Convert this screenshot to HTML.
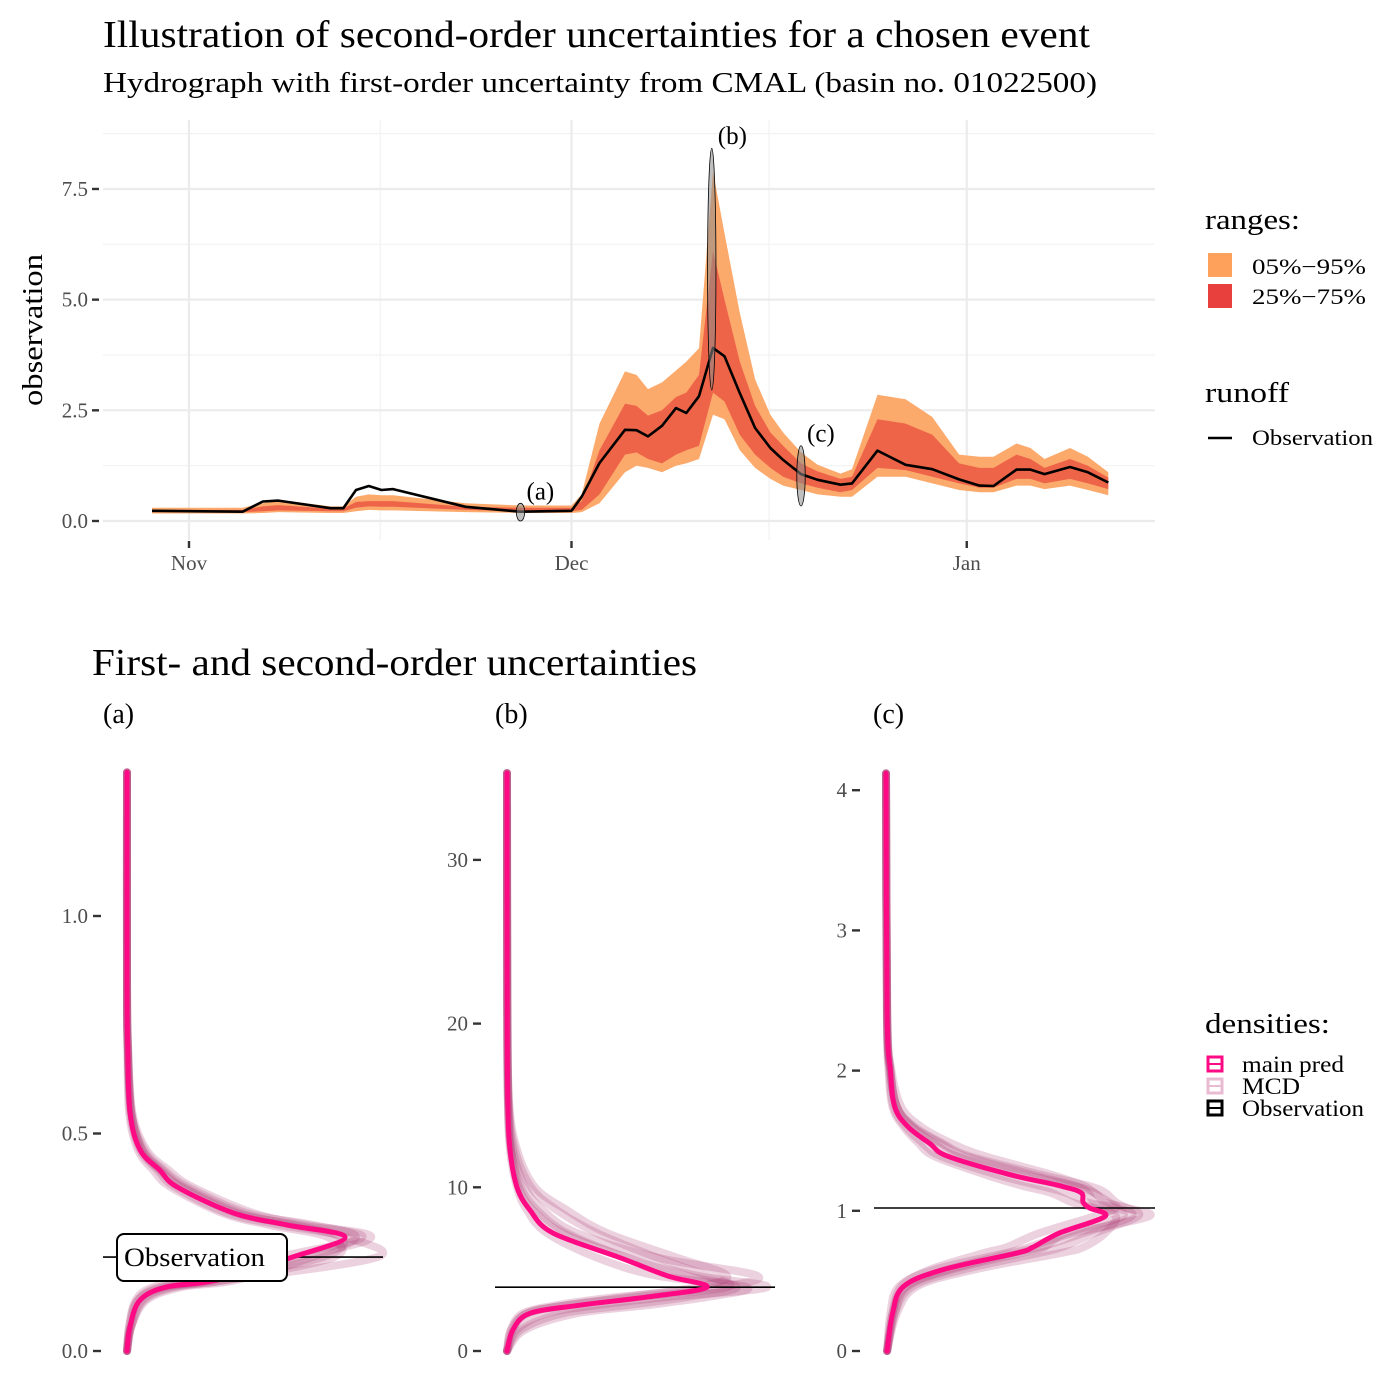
<!DOCTYPE html>
<html><head><meta charset="utf-8">
<style>
html,body{margin:0;padding:0;background:#fff;}
svg{display:block;font-family:"Liberation Serif",serif;}
</style></head>
<body>
<svg id="chart" width="1391" height="1378" viewBox="0 0 1391 1378" xmlns="http://www.w3.org/2000/svg">
<rect width="1391" height="1378" fill="#fff"/>
<text x="103" y="47" font-size="38" textLength="987" lengthAdjust="spacingAndGlyphs" fill="#000">Illustration of second-order uncertainties for a chosen event</text>
<text x="103" y="92" font-size="29" textLength="994" lengthAdjust="spacingAndGlyphs" fill="#000">Hydrograph with first-order uncertainty from CMAL (basin no. 01022500)</text>
<g id="topPanel"></g>
<text transform="translate(42,330) rotate(-90)" text-anchor="middle" font-size="28" textLength="152" lengthAdjust="spacingAndGlyphs">observation</text>

<g>
<text x="1205" y="229" font-size="28" textLength="95" lengthAdjust="spacingAndGlyphs">ranges:</text>
<rect x="1208" y="253" width="24" height="24" fill="#FDA15B"/>
<text x="1252" y="274" font-size="22" textLength="114" lengthAdjust="spacingAndGlyphs">05%−95%</text>
<rect x="1208" y="284" width="24" height="24" fill="#E8403C"/>
<text x="1252" y="304" font-size="22" textLength="114" lengthAdjust="spacingAndGlyphs">25%−75%</text>
<text x="1205" y="402" font-size="28" textLength="84" lengthAdjust="spacingAndGlyphs">runoff</text>
<line x1="1208" y1="438" x2="1232" y2="438" stroke="#000" stroke-width="2.5"/>
<text x="1252" y="445" font-size="22" textLength="121" lengthAdjust="spacingAndGlyphs">Observation</text>
</g>

<text x="92" y="675" font-size="38" textLength="605" lengthAdjust="spacingAndGlyphs">First- and second-order uncertainties</text>
<text x="103" y="723" font-size="28">(a)</text>
<text x="495" y="723" font-size="28">(b)</text>
<text x="873" y="723" font-size="28">(c)</text>
<g id="bottom"></g>

<g>
<text x="1205" y="1033" font-size="28" textLength="125" lengthAdjust="spacingAndGlyphs">densities:</text>
<rect x="1208" y="1057" width="14" height="14" fill="none" stroke="#FF0A84" stroke-width="3"/>
<line x1="1209" y1="1064" x2="1221" y2="1064" stroke="#FF0A84" stroke-width="2"/>
<text x="1242" y="1072" font-size="23" textLength="102" lengthAdjust="spacingAndGlyphs">main pred</text>
<rect x="1208" y="1079" width="14" height="14" fill="none" stroke="#E9BBD3" stroke-width="3"/>
<line x1="1209" y1="1086" x2="1221" y2="1086" stroke="#E9BBD3" stroke-width="2"/>
<text x="1242" y="1094" font-size="23" textLength="58" lengthAdjust="spacingAndGlyphs">MCD</text>
<rect x="1208" y="1101" width="14" height="14" fill="none" stroke="#000" stroke-width="3"/>
<line x1="1209" y1="1108" x2="1221" y2="1108" stroke="#000" stroke-width="2"/>
<text x="1242" y="1116" font-size="23" textLength="122" lengthAdjust="spacingAndGlyphs">Observation</text>
</g>
</svg>
<script>
// ---------- hydrograph data ----------
const days = [-2.9,4.2,5.8,7,11.1,12.1,13.1,14.1,15.1,16,21.7,26,30,30.8,32.2,34.2,35.1,36,37.1,38.2,39,40,41.1,42,43.2,44.4,45.6,46.6,48,49.3,51.1,52,54,56.2,58.3,60.4,62,63.1,64.9,66,67.1,69.1,70.5,72.1];
const obs  = [0.23,0.21,0.44,0.46,0.29,0.29,0.70,0.79,0.70,0.72,0.32,0.21,0.23,0.55,1.31,2.06,2.05,1.91,2.15,2.55,2.44,2.82,3.91,3.72,2.89,2.10,1.65,1.38,1.06,0.93,0.82,0.85,1.59,1.27,1.17,0.94,0.80,0.79,1.16,1.16,1.06,1.22,1.10,0.87];
const q95  = [0.30,0.30,0.40,0.48,0.33,0.33,0.55,0.60,0.58,0.58,0.40,0.35,0.35,0.60,2.20,3.38,3.30,2.98,3.13,3.40,3.60,3.90,7.90,6.50,4.70,3.20,2.40,2.00,1.55,1.27,1.07,1.17,2.85,2.75,2.35,1.50,1.45,1.45,1.75,1.65,1.40,1.65,1.45,1.10];
const q75  = [0.25,0.25,0.33,0.36,0.28,0.28,0.43,0.45,0.45,0.45,0.32,0.30,0.30,0.45,1.60,2.65,2.60,2.38,2.50,2.80,2.90,3.30,6.10,5.00,3.60,2.60,2.00,1.70,1.30,1.12,0.95,1.00,2.30,2.20,1.95,1.30,1.20,1.20,1.50,1.40,1.20,1.40,1.25,0.98];
const q25  = [0.20,0.20,0.22,0.24,0.22,0.22,0.30,0.33,0.32,0.32,0.25,0.22,0.22,0.25,0.60,1.50,1.55,1.40,1.30,1.50,1.60,1.70,2.90,2.70,1.95,1.50,1.20,1.00,0.85,0.75,0.65,0.70,1.20,1.15,1.00,0.85,0.75,0.75,0.95,0.95,0.85,0.95,0.85,0.72];
const q05  = [0.17,0.17,0.18,0.20,0.18,0.18,0.22,0.25,0.24,0.24,0.20,0.18,0.18,0.20,0.40,1.10,1.25,1.20,1.10,1.25,1.30,1.40,2.40,2.30,1.60,1.20,0.95,0.80,0.70,0.60,0.55,0.55,1.00,1.00,0.85,0.70,0.65,0.65,0.80,0.80,0.72,0.80,0.70,0.58];
const yTicks = [0,2.5,5,7.5];
const yTickLabels = ["0.0","2.5","5.0","7.5"];
const xTickDays = [0,30,61];
const xTickLabels = ["Nov","Dec","Jan"];
const markerDays = [26,41.0,48.0];
const markerVals = [0.20,5.69,1.02];
const markerHalf = [0.2,2.73,0.68];
const markerLabels = ["(a)","(b)","(c)"];

// ---------- density data ----------
const gridA = [0,0.057,0.117,0.147,0.163,0.216,0.262,0.290,0.317,0.377,0.416,0.462,0.547,0.70,0.85,1.33];
const mainA = [0,0.014,0.06,0.18,0.41,0.76,1.0,0.73,0.49,0.23,0.15,0.06,0.014,0.003,0,0];
const mcdA = [
 [0,0.02,0.09,0.25,0.5,0.85,1.05,0.85,0.55,0.28,0.17,0.08,0.02,0.004,0,0],
 [0,0.01,0.04,0.12,0.3,0.7,1.08,0.78,0.5,0.25,0.15,0.07,0.02,0.003,0,0],
 [0,0.02,0.07,0.2,0.45,0.95,0.92,0.65,0.44,0.2,0.12,0.05,0.01,0.002,0,0],
 [0,0.015,0.05,0.15,0.38,0.8,1.12,0.82,0.58,0.3,0.19,0.09,0.025,0.005,0,0],
 [0,0.01,0.05,0.17,0.4,0.9,0.98,0.7,0.46,0.22,0.14,0.06,0.015,0.003,0,0],
 [0,0.02,0.08,0.22,0.46,1.15,1.0,0.76,0.52,0.26,0.16,0.07,0.02,0.004,0,0]];
const obsA = 0.216;
const ticksA = [0,0.5,1.0]; const tickLabA = ["0.0","0.5","1.0"];

const gridB = [0,1.3,2.3,2.8,3.3,3.9,4.6,5.7,7.2,8.6,10.0,12.3,15.3,21.4,35.3];
const mainB = [0,0.03,0.115,0.365,0.70,1.0,0.80,0.565,0.23,0.115,0.05,0.015,0.004,0.001,0];
const mcdB = [
 [0,0.07,0.28,0.6,0.9,1.15,0.9,0.6,0.3,0.15,0.07,0.02,0.005,0.001,0],
 [0,0.02,0.08,0.25,0.55,1.05,1.25,0.75,0.35,0.18,0.09,0.03,0.008,0.002,0],
 [0,0.09,0.35,0.7,1.0,1.2,0.75,0.45,0.2,0.1,0.05,0.015,0.004,0.001,0],
 [0,0.03,0.1,0.3,0.6,0.95,1.1,0.85,0.5,0.3,0.14,0.05,0.01,0.002,0],
 [0,0.05,0.2,0.45,0.8,1.3,0.95,0.6,0.28,0.13,0.06,0.02,0.005,0.001,0],
 [0,0.02,0.1,0.3,0.65,1.1,1.0,0.75,0.45,0.25,0.12,0.04,0.008,0.001,0]];
const obsB = 3.9;
const ticksB = [0,10,20,30]; const tickLabB = ["0","10","20","30"];

const gridC = [0,0.27,0.46,0.58,0.70,0.74,0.84,0.96,1.02,1.06,1.13,1.18,1.26,1.39,1.48,1.60,1.74,2.0,2.41,4.12];
const mainC = [0.005,0.03,0.08,0.26,0.60,0.67,0.79,1.0,0.93,0.90,0.89,0.79,0.56,0.28,0.2,0.1,0.04,0.02,0.005,0];
const mcdC = [
 [0.005,0.04,0.12,0.35,0.7,0.8,0.95,1.15,1.1,1.0,0.95,0.85,0.62,0.32,0.22,0.12,0.05,0.02,0.005,0],
 [0.005,0.03,0.07,0.2,0.45,0.55,0.7,0.95,1.05,1.02,0.95,0.9,0.75,0.45,0.3,0.16,0.07,0.025,0.006,0],
 [0.005,0.05,0.14,0.4,0.8,0.9,1.0,1.05,0.95,0.85,0.75,0.62,0.45,0.22,0.15,0.08,0.03,0.012,0.004,0],
 [0.005,0.02,0.06,0.22,0.55,0.65,0.85,1.2,1.1,1.05,1.0,0.92,0.7,0.38,0.26,0.13,0.05,0.02,0.005,0],
 [0.005,0.04,0.1,0.3,0.62,0.72,0.82,1.08,1.0,0.95,0.92,0.86,0.66,0.36,0.25,0.12,0.05,0.02,0.005,0],
 [0.005,0.03,0.09,0.28,0.58,0.7,0.9,1.12,1.05,0.92,0.82,0.7,0.5,0.25,0.17,0.09,0.035,0.015,0.004,0]];
const obsC = 1.02;
const ticksC = [0,1,2,3,4]; const tickLabC = ["0","1","2","3","4"];

const NS = "http://www.w3.org/2000/svg";
function mk(tag, attrs, parent){const e=document.createElementNS(NS,tag);for(const k in attrs)e.setAttribute(k,attrs[k]);parent.appendChild(e);return e;}

// ---------- hydrograph ----------
const topG = document.getElementById('topPanel');
const xDay = d => 189 + d*12.75;
const yVal = v => 521 - v*44.27;
const PL=103, PR=1155, PT=120, PB=540;
[1.25,3.75,6.25,8.75].forEach(v=>{const l=mk('line',{x1:PL,x2:PR,y1:yVal(v),y2:yVal(v),stroke:'#f2f2f2','stroke-width':1.2},topG);

});
[15,45.5].forEach(d=>{const l=mk('line',{x1:xDay(d),x2:xDay(d),y1:PT,y2:PB,stroke:'#f2f2f2','stroke-width':1.2},topG);

});
yTicks.forEach((v,i)=>{const l=mk('line',{x1:PL,x2:PR,y1:yVal(v),y2:yVal(v),stroke:'#ebebeb','stroke-width':2.2},topG);


const t=mk('line',{x1:92,x2:99,y1:yVal(v),y2:yVal(v),stroke:'#333','stroke-width':2.4},topG);


const tx=mk('text',{x:88,y:yVal(v)+7,'text-anchor':'end','font-size':21,fill:'#4d4d4d'},topG);tx.textContent=yTickLabels[i];

});
xTickDays.forEach((d,i)=>{const l=mk('line',{x1:xDay(d),x2:xDay(d),y1:PT,y2:PB,stroke:'#ebebeb','stroke-width':2.2},topG);


const t=mk('line',{x1:xDay(d),x2:xDay(d),y1:541,y2:548,stroke:'#333','stroke-width':2.4},topG);


const tx=mk('text',{x:xDay(d),y:570,'text-anchor':'middle','font-size':21,fill:'#4d4d4d'},topG);tx.textContent=xTickLabels[i];

});
function band(lo,hi){let p='M';days.forEach((d,i)=>{p+=xDay(d).toFixed(1)+','+yVal(hi[i]).toFixed(1)+' L';});
for(let i=days.length-1;i>=0;i--){p+=xDay(days[i]).toFixed(1)+','+yVal(lo[i]).toFixed(1)+(i?' L':' Z');}return p;}
const b1=mk('path',{d:band(q05,q95),fill:'#FCA96C'},topG);


const b2=mk('path',{d:band(q25,q75),fill:'#EE6448'},topG);


const ol=mk('path',{d:'M'+days.map((d,i)=>xDay(d).toFixed(1)+','+yVal(obs[i]).toFixed(1)).join(' L'),fill:'none',stroke:'#000','stroke-width':2.6,'stroke-linejoin':'round'},topG);


markerDays.forEach((d,i)=>{const cy=yVal(markerVals[i]);const ry=markerHalf[i]*44.27;
const e=mk('ellipse',{cx:xDay(d),cy:cy,rx:4.2,ry:ry,fill:'#8c8c8c','fill-opacity':0.55,stroke:'#000','stroke-width':0.8},topG);


const t=mk('text',{x:xDay(d)+6,y:cy-ry-4,'font-size':25},topG);t.textContent=markerLabels[i];

});

// ---------- density panels ----------
const bottom=document.getElementById('bottom');
function smooth(pts){let d='M'+pts[0][0].toFixed(1)+','+pts[0][1].toFixed(1);
for(let i=0;i<pts.length-1;i++){const p0=pts[i-1]||pts[i],p1=pts[i],p2=pts[i+1],p3=pts[i+2]||p2;
const c1x=p1[0]+(p2[0]-p0[0])/6,c1y=p1[1]+(p2[1]-p0[1])/6,c2x=p2[0]-(p3[0]-p1[0])/6,c2y=p2[1]-(p3[1]-p1[1])/6;
d+=' C'+c1x.toFixed(1)+','+c1y.toFixed(1)+' '+c2x.toFixed(1)+','+c2y.toFixed(1)+' '+p2[0].toFixed(1)+','+p2[1].toFixed(1);}return d;}
function panel(key,grid,main,mcd,obsV,ticks,labs,base,width,pxPerUnit,lineX1,lineX2){
 const g=mk('g',{},bottom);
 
 
 const y=v=>1351-v*pxPerUnit; const x=dd=>base+dd*width;
 ticks.forEach((v,i)=>{const t=mk('line',{x1:base-34,x2:base-26,y1:y(v),y2:y(v),stroke:'#333','stroke-width':2.4},g);
 
 
 const tx=mk('text',{x:base-39,y:y(v)+7,'text-anchor':'end','font-size':21,fill:'#4d4d4d'},g);tx.textContent=labs[i];
 
 });
 mcd.forEach(arr=>{const p=mk('path',{d:smooth(grid.map((v,i)=>[x(arr[i]),y(v)])),fill:'none',stroke:'#A8336F','stroke-opacity':0.22,'stroke-width':8,'stroke-linecap':'round'},g);
 
 });
 const ol=mk('line',{x1:lineX1,x2:lineX2,y1:y(obsV),y2:y(obsV),stroke:'#000','stroke-width':1.6},g);
 
 
 const m=mk('path',{d:smooth(grid.map((v,i)=>[x(main[i]),y(v)])),fill:'none',stroke:'#FF0A84','stroke-width':5,'stroke-linecap':'round','stroke-linejoin':'round'},g);
 
 
 return {g,y};
}
const pa=panel('a',gridA,mainA,mcdA,obsA,ticksA,tickLabA,127,218,435,103,383);
panel('b',gridB,mainB,mcdB,obsB,ticksB,tickLabB,507,200,16.37,495,775);
panel('c',gridC,mainC,mcdC,obsC,ticksC,tickLabC,886,219,140.2,874,1155);
const lb=mk('rect',{x:117,y:1234,width:170,height:47,rx:7,fill:'#fff',stroke:'#000','stroke-width':2},pa.g);


const lt=mk('text',{x:124,y:1266,'font-size':26,textLength:141,lengthAdjust:'spacingAndGlyphs'},pa.g);lt.textContent='Observation';


</script>
</body></html>
